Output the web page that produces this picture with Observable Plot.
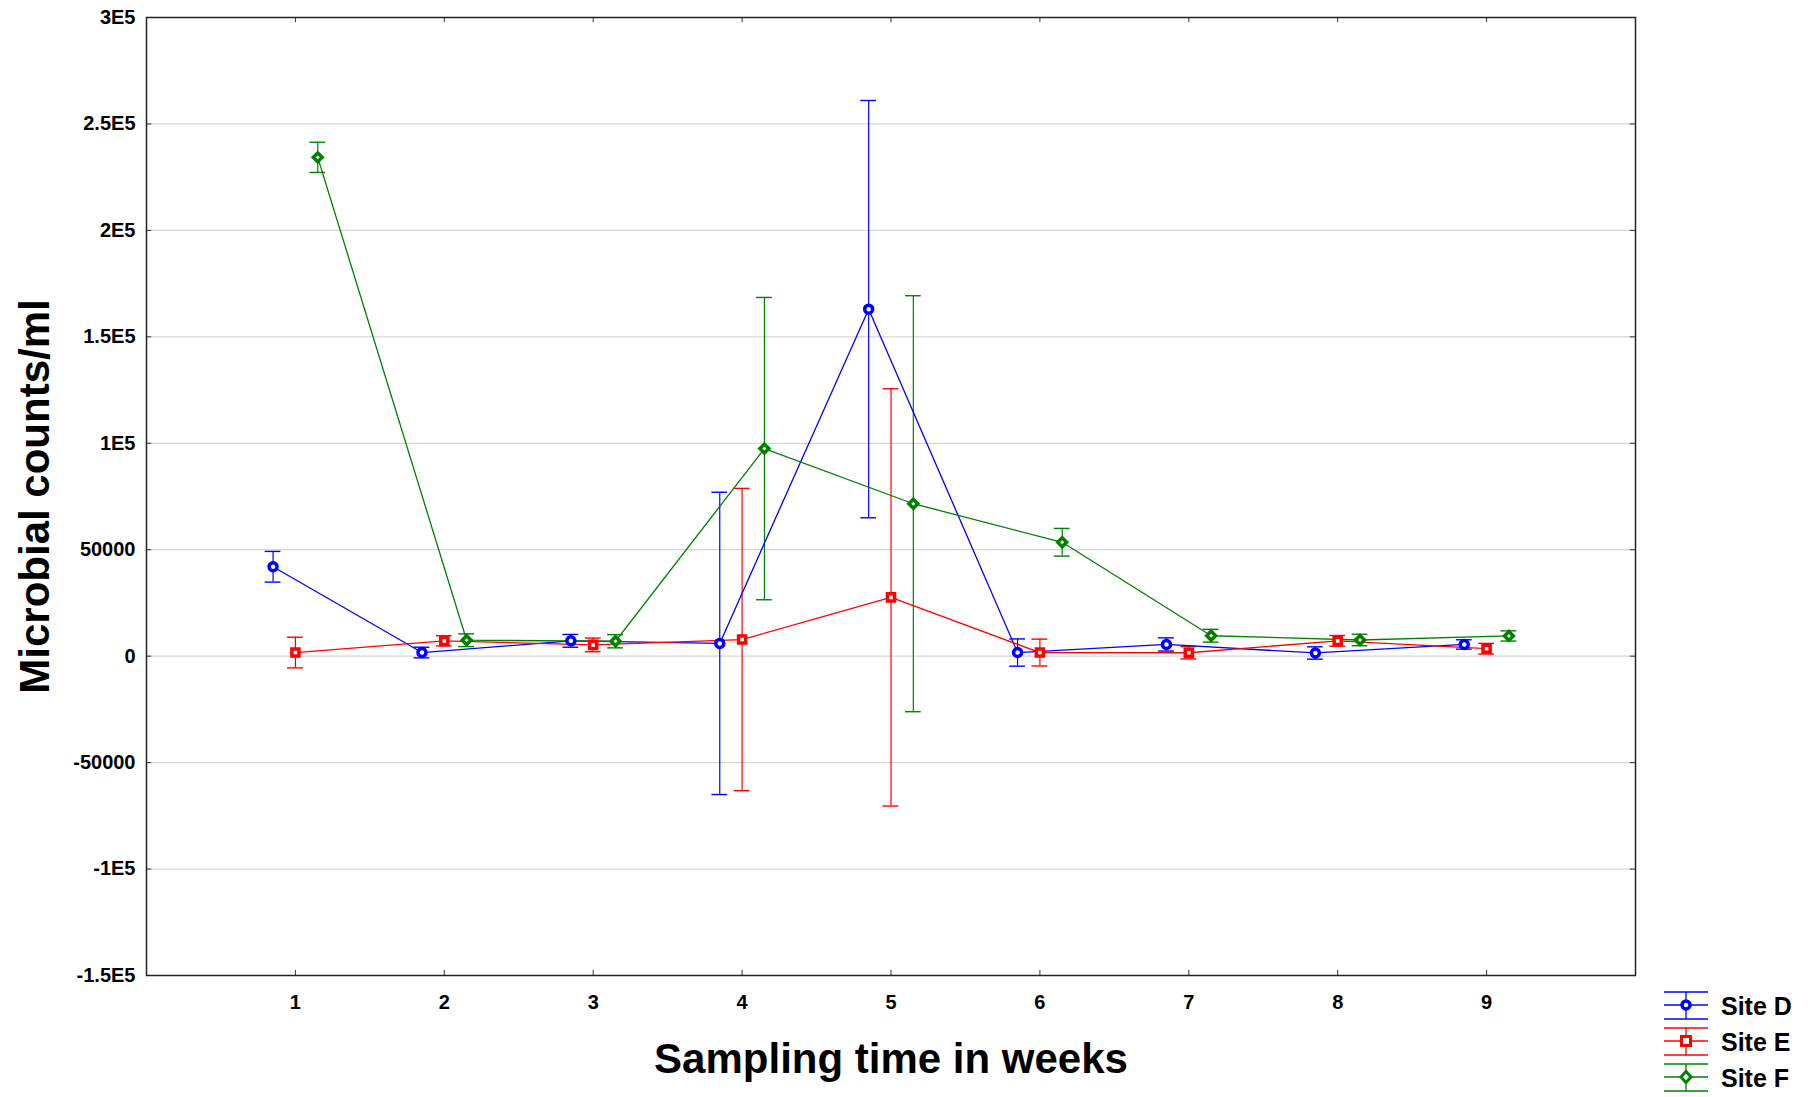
<!DOCTYPE html>
<html>
<head>
<meta charset="utf-8">
<script src="https://cdn.jsdelivr.net/npm/d3@7"></script>
<script src="https://cdn.jsdelivr.net/npm/@observablehq/plot@0.6"></script>
<style>
  html, body { margin: 0; padding: 0; background: white; }
  #wrap { position: relative; width: 1814px; height: 1097px; }
  #legend { position: absolute; left: 1664px; top: 988px; font-family: "Liberation Sans", Arial, sans-serif; }
  .row { display: flex; align-items: center; height: 36px; }
  .row span { font-weight: bold; font-size: 25px; color: black; margin-left: 12px; }
</style>
</head>
<body>
<div id="wrap"><div id="chart"></div><div id="legend"></div></div>
<script>
// ---- data ----
const weeks = [1, 2, 3, 4, 5, 6, 7, 8, 9];
const sites = ["Site D", "Site E", "Site F"];
const siteColors = ["#0000ff", "#ff0000", "#008000"];
const siteSymbols = ["circle", "square", "diamond2"];

const siteD    = [42000, 1700, 7200, 6000, 163000, 1700, 5500, 1500, 5500];
const siteDErr = [7200, 2500, 3000, 71000, 98000, 6400, 3100, 2900, 2200];
const siteE    = [1700, 7200, 5300, 7800, 27600, 1700, 1600, 7200, 3500];
const siteEErr = [7200, 2400, 3200, 71000, 98000, 6300, 2900, 2500, 2500];
const siteF    = [234300, 7500, 7000, 97500, 71600, 53500, 9600, 7600, 9500];
const siteFErr = [7100, 3000, 3100, 71000, 97700, 6500, 3000, 2700, 2400];

const yTicks = [-150000, -100000, -50000, 0, 50000, 100000, 150000, 200000, 250000, 300000];
const yTickLabels = ["-1.5E5", "-1E5", "-50000", "0", "50000", "1E5", "1.5E5", "2E5", "2.5E5", "3E5"];

const xLabel = "Sampling time in weeks";
const yLabel = "Microbial counts/ml";

// ---- build table ----
const dodge = [-0.15, 0, 0.15];
const series = [[siteD, siteDErr], [siteE, siteEErr], [siteF, siteFErr]];
const rows = [];
series.forEach(([vals, errs], s) => {
  weeks.forEach((w, i) => {
    rows.push({site: sites[s], week: w, x: w + dodge[s], y: vals[i], lo: vals[i] - errs[i], hi: vals[i] + errs[i]});
  });
});

const capHalf = 0.053;
const font = "'Liberation Sans', Arial, Helvetica, sans-serif";

const chart = Plot.plot({
  width: 1814,
  height: 1097,
  marginLeft: 146,
  marginRight: 179,
  marginTop: 17,
  marginBottom: 122,
  style: {fontFamily: font, background: "white", color: "black"},
  x: {domain: [0, 10]},
  y: {domain: [-150000, 300000]},
  color: {domain: sites, range: siteColors},
  symbol: {domain: sites, range: siteSymbols},
  marks: [
    Plot.gridY(yTicks.slice(1, -1), {stroke: "#d6d6d6", strokeOpacity: 1, strokeWidth: 1.3}),
    // inward ticks
    Plot.ruleY(yTicks, {x1: 0, x2: 0.035, stroke: "#333"}),
    Plot.ruleY(yTicks, {x1: 10 - 0.035, x2: 10, stroke: "#333"}),
    Plot.ruleX(weeks, {y1: -150000, y2: -150000 + 2400, stroke: "#333"}),
    Plot.ruleX(weeks, {y1: 300000 - 2400, y2: 300000, stroke: "#333"}),
    Plot.axisY(yTicks, {tickSize: 0, tickPadding: 11, fontSize: 20, fontWeight: "bold", label: null,
      tickFormat: d => yTickLabels[yTicks.indexOf(d)]}),
    Plot.axisX(weeks, {tickSize: 0, tickPadding: 19, fontSize: 20, fontWeight: "bold", label: null,
      tickFormat: d => String(d)}),
    Plot.frame({stroke: "#222", strokeWidth: 1.5}),
    // error bars
    Plot.ruleX(rows, {x: "x", y1: "lo", y2: "hi", stroke: "site", strokeWidth: 1.2}),
    Plot.ruleY(rows, {y: "hi", x1: d => d.x - capHalf, x2: d => d.x + capHalf, stroke: "site", strokeWidth: 1.4}),
    Plot.ruleY(rows, {y: "lo", x1: d => d.x - capHalf, x2: d => d.x + capHalf, stroke: "site", strokeWidth: 1.4}),
    // lines and markers
    Plot.line(rows, {x: "x", y: "y", z: "site", stroke: "site", strokeWidth: 1.3}),
    Plot.dot(rows, {x: "x", y: "y", stroke: "site", symbol: "site", fill: "white", r: 4, strokeWidth: 3.5}),
    // axis titles
    Plot.text([yLabel], {frameAnchor: "left", dx: -111, rotate: -90, textAnchor: "middle", lineAnchor: "middle",
      fontSize: 42, fontWeight: "bold", fill: "black"}),
    Plot.text([xLabel], {frameAnchor: "bottom", dy: 84, textAnchor: "middle", lineAnchor: "middle",
      fontSize: 42, fontWeight: "bold", fill: "black"})
  ]
});
document.getElementById("chart").appendChild(chart);

// ---- legend ----
const legend = document.getElementById("legend");
sites.forEach((s, i) => {
  const c = siteColors[i];
  let marker;
  if (i === 0) marker = `<circle cx="22" cy="14" r="4" fill="white" stroke="${c}" stroke-width="3.5"/>`;
  else if (i === 1) marker = `<rect x="17.5" y="9.5" width="9" height="9" fill="white" stroke="${c}" stroke-width="3"/>`;
  else marker = `<path d="M22,8.5 L27,14 L22,19.5 L17,14 Z" fill="white" stroke="${c}" stroke-width="3"/>`;
  const row = document.createElement("div");
  row.className = "row";
  row.innerHTML = `<svg width="45" height="30" viewBox="0 0 45 30">
    <line x1="0" x2="44" y1="1" y2="1" stroke="${c}" stroke-width="1.3"/>
    <line x1="0" x2="44" y1="14" y2="14" stroke="${c}" stroke-width="1.3"/>
    <line x1="0" x2="44" y1="28" y2="28" stroke="${c}" stroke-width="1.3"/>
    <line x1="22" x2="22" y1="1" y2="28" stroke="${c}" stroke-width="1.3"/>
    ${marker}</svg><span>${s}</span>`;
  legend.appendChild(row);
});
</script>
</body>
</html>
